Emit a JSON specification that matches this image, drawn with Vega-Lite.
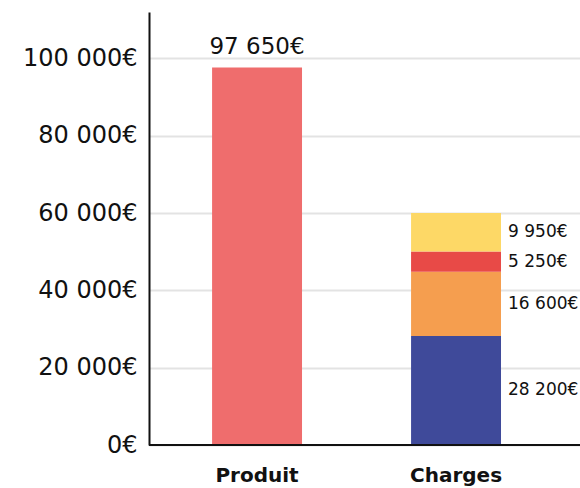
{
  "$schema": "https://vega.github.io/schema/vega-lite/v6.json",
  "width": 431,
  "height": 433,
  "autosize": {"type": "none"},
  "padding": {"left": 149, "top": 12, "right": 0, "bottom": 43},
  "config": {
    "locale": {"number": {"decimal": ",", "thousands": " ", "grouping": [3], "currency": ["", "€"]}},
    "font": "DejaVu Sans",
    "view": {"stroke": null}
  },
  "data": {
    "values": [
      {"cat": "Produit", "part": "Produit", "value": 97650, "ord": 0},
      {"cat": "Charges", "part": "A", "value": 28200, "ord": 1},
      {"cat": "Charges", "part": "B", "value": 16600, "ord": 2},
      {"cat": "Charges", "part": "C", "value": 5250, "ord": 3},
      {"cat": "Charges", "part": "D", "value": 9950, "ord": 4}
    ]
  },
  "transform": [
    {"stack": "value", "groupby": ["cat"], "sort": [{"field": "ord"}], "as": ["v0", "v1"]}
  ],
  "encoding": {
    "x": {
      "field": "cat", "type": "nominal", "sort": ["Produit", "Charges"],
      "scale": {"paddingInner": 0.548, "paddingOuter": 0.357, "align": 0.444},
      "axis": {"title": null, "labelAngle": 0, "domain": false, "ticks": false, "labelFontSize": 20, "labelFontWeight": "bold", "labelColor": "#111", "labelPadding": 20}
    }
  },
  "layer": [
    {
      "mark": {"type": "bar"},
      "encoding": {
        "y": {
          "field": "v0", "type": "quantitative",
          "scale": {"domain": [0, 112000], "nice": false},
          "axis": {"title": null, "values": [0, 20000, 40000, 60000, 80000, 100000], "format": "$,.0f", "labelFontSize": 24, "labelColor": "#111", "labelPadding": 12, "ticks": false, "domainColor": "#111", "domainWidth": 2, "gridColor": "#e3e3e3", "gridWidth": 2}
        },
        "y2": {"field": "v1"},
        "color": {"field": "part", "type": "nominal", "legend": null,
          "scale": {"domain": ["Produit", "A", "B", "C", "D"], "range": ["#ef6d6d", "#3f4a9a", "#f59e4f", "#e84a47", "#fdd866"]}}
      }
    },
    {
      "transform": [{"filter": "datum.cat === 'Produit'"}],
      "mark": {"type": "text", "baseline": "alphabetic", "dy": -13, "fontSize": 23, "color": "#111"},
      "encoding": {
        "y": {"field": "v1", "type": "quantitative"},
        "text": {"field": "value", "type": "quantitative", "format": "$,.0f"}
      }
    },
    {
      "transform": [
        {"filter": "datum.cat === 'Charges'"},
        {"fold": ["v0", "v1"], "as": ["k", "pos"]},
        {"aggregate": [{"op": "mean", "field": "pos", "as": "mid"}, {"op": "max", "field": "value", "as": "value"}], "groupby": ["cat", "part"]}
      ],
      "mark": {"type": "text", "align": "left", "baseline": "middle", "dx": 52, "fontSize": 17, "color": "#111"},
      "encoding": {
        "y": {"field": "mid", "type": "quantitative"},
        "text": {"field": "value", "type": "quantitative", "format": "$,.0f"}
      }
    },
    {
      "mark": {"type": "rule", "color": "#111", "strokeWidth": 2},
      "encoding": {"y": {"datum": 0, "type": "quantitative"}, "x": null}
    }
  ]
}
